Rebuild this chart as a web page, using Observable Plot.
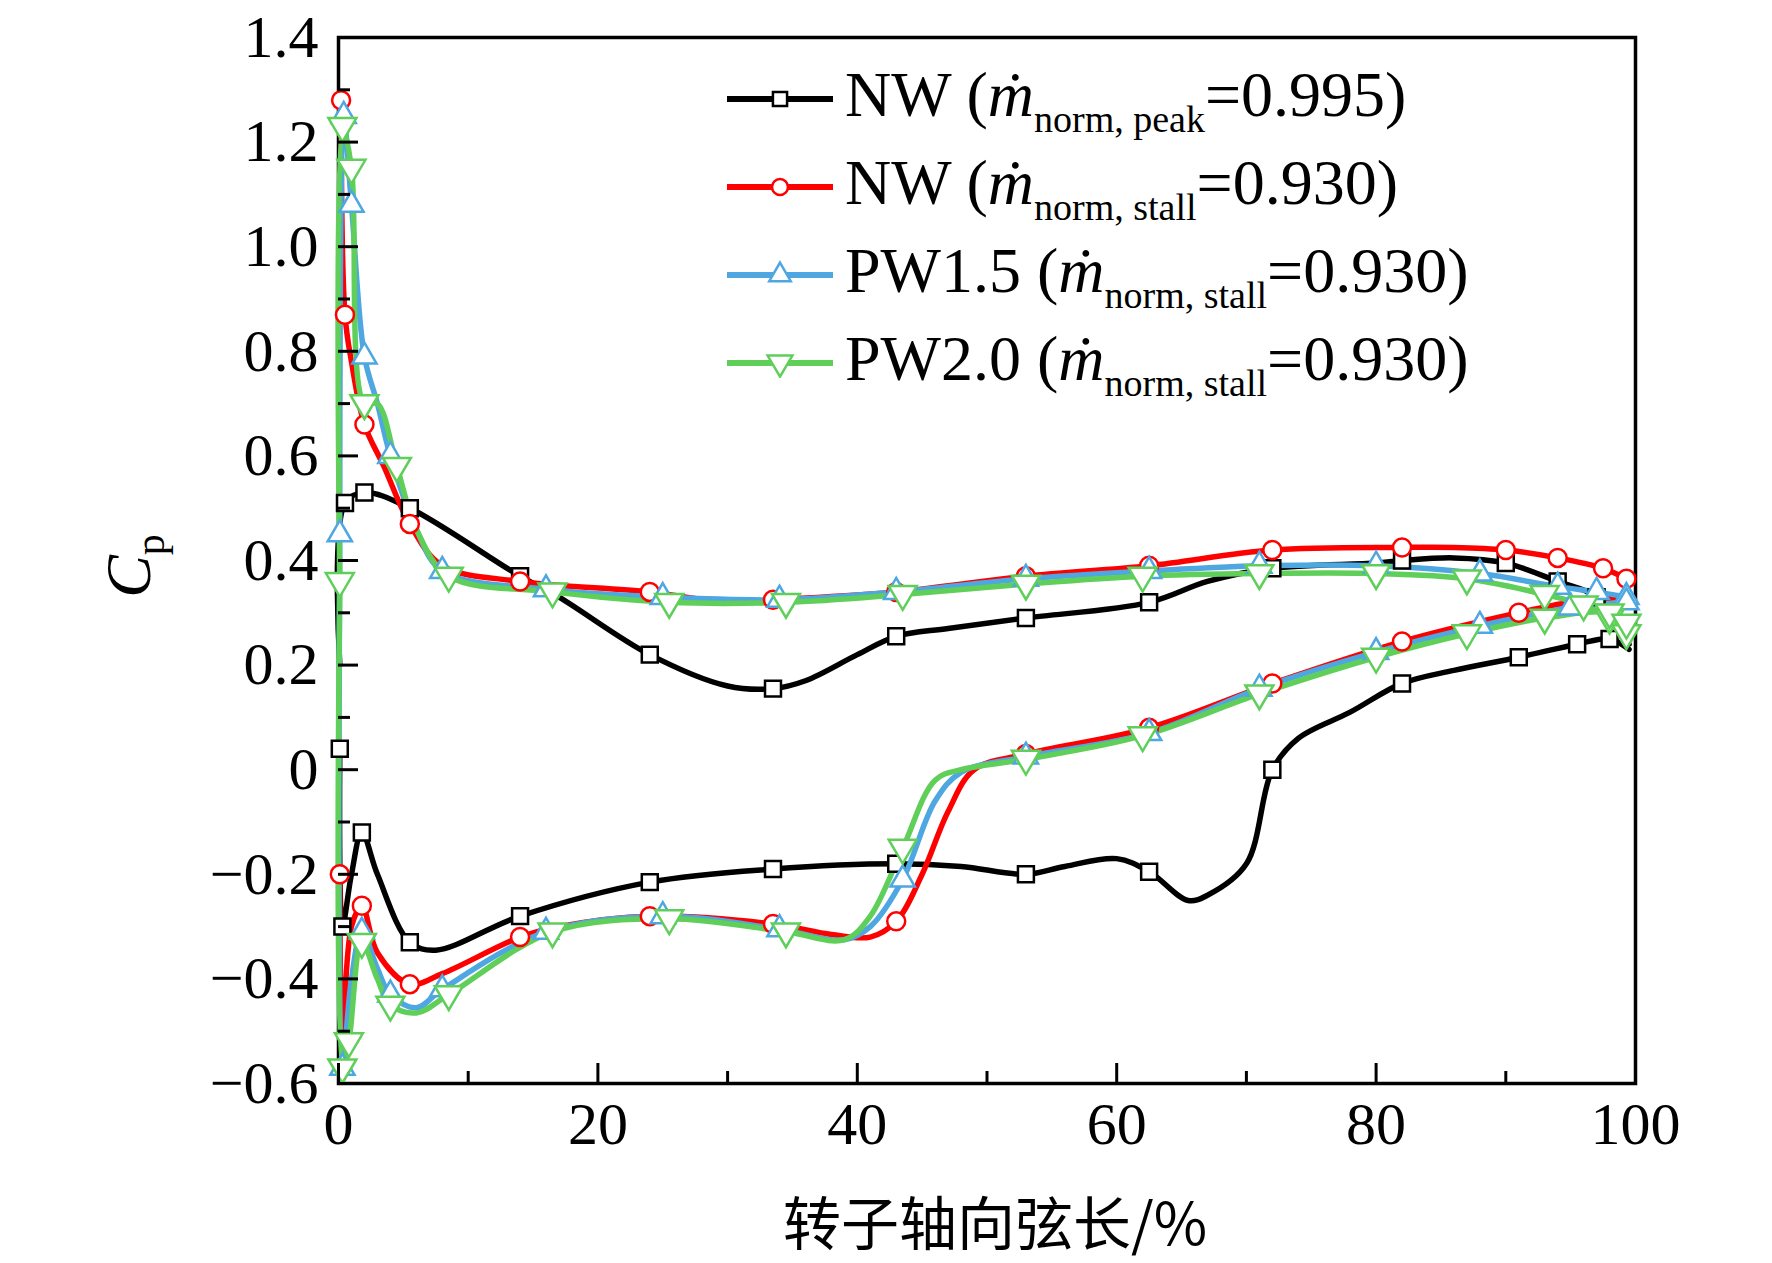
<!DOCTYPE html>
<html><head><meta charset="utf-8">
<script src="https://cdn.jsdelivr.net/npm/d3@7"></script>
<script src="https://cdn.jsdelivr.net/npm/@observablehq/plot@0.6"></script>
<style>
body{margin:0;background:#fff;}
#wrap{position:relative;width:1772px;height:1263px;}
#legend{position:absolute;left:725px;top:55px;font-family:"Liberation Serif",serif;font-size:64px;color:#000;}
.row{display:flex;align-items:center;height:88px;white-space:nowrap;}
.row svg{margin-right:10px;}
sub{font-size:38px;vertical-align:-16px;}
i{font-style:italic;}
</style></head><body>
<div id="wrap"><div id="chart"></div><div id="legend"></div></div>
<script>
const seriesNames = ["NW (peak)","NW (stall)","PW1.5 (stall)","PW2.0 (stall)"];
const colors = ["#000000","#ff0000","#4ea7e0","#5fcf5a"];
const triDown = {draw(ctx,size){const r=Math.sqrt(size/1.3);ctx.moveTo(-r,-r*0.6);ctx.lineTo(r,-r*0.6);ctx.lineTo(0,r*1.1);ctx.closePath();}};
const symbols = [d3.symbolSquare,d3.symbolCircle,d3.symbolTriangle,triDown];
const legendMain = ["NW (","NW (","PW1.5 (","PW2.0 ("];
const legendSub = ["norm, peak","norm, stall","norm, stall","norm, stall"];
const legendVal = ["=0.995)","=0.930)","=0.930)","=0.930)"];

const nwPeakUpX = [0.1,0.5,2,5.5,14,17,24,30,33.5,36,40,43,47,53,62.5,67,72,80,82,86,90,94,97,99.5];
const nwPeakUpY = [0.2,0.51,0.53,0.5,0.37,0.33,0.22,0.16,0.155,0.17,0.22,0.255,0.27,0.29,0.32,0.36,0.385,0.395,0.40,0.405,0.395,0.36,0.33,0.24];
const nwPeakLoX = [0.1,0.3,1,1.8,3,5.5,7.5,14,24,33.5,43,48,53,56,60,62.5,65.5,67,70,72,74,78,82,86,91,95.5,98,99.5];
const nwPeakLoY = [0.04,-0.3,-0.2,-0.12,-0.2,-0.33,-0.345,-0.28,-0.215,-0.19,-0.18,-0.185,-0.2,-0.185,-0.17,-0.195,-0.25,-0.24,-0.18,0.0,0.06,0.11,0.165,0.19,0.215,0.24,0.25,0.23];
const nwPeakUpM = [0,1,1,1,1,0,1,0,1,0,0,1,0,1,1,0,1,0,1,0,1,1,1,0];
const nwPeakLoM = [1,1,0,1,0,1,0,1,1,1,1,0,1,0,0,1,0,0,0,1,0,0,1,0,1,1,1,0];

const nwStallUpX = [0.2,0.5,1,2,3.5,5.5,8,14,24,30,33.5,43,53,62.5,72,82,86,90,94,97.5,99.3];
const nwStallUpY = [1.28,0.87,0.78,0.66,0.58,0.47,0.39,0.36,0.34,0.32,0.325,0.34,0.37,0.39,0.42,0.425,0.425,0.42,0.405,0.385,0.365];
const nwStallLoX = [0.1,0.3,1,1.8,3,5.5,8,14,17,24,33.5,38,41,43,45,47,49,53,62.5,72,82,91,95,99.3];
const nwStallLoY = [-0.2,-0.5,-0.3,-0.26,-0.35,-0.41,-0.39,-0.32,-0.3,-0.28,-0.295,-0.315,-0.32,-0.29,-0.2,-0.08,0.0,0.03,0.08,0.165,0.245,0.3,0.32,0.33];
const nwStallUpM = [1,1,0,1,0,1,0,1,1,0,1,1,1,1,1,1,0,1,1,1,1];
const nwStallLoM = [1,0,0,1,0,1,0,1,0,1,1,0,0,1,0,0,0,1,1,1,1,1,0,0];

const pw15UpX = [0.1,0.4,1,2,3,4,6,8,16,25,34,43,53,62.5,71,80,88,94,97,99.3];
const pw15UpY = [0.45,1.25,1.08,0.79,0.7,0.6,0.46,0.38,0.345,0.33,0.325,0.34,0.365,0.38,0.39,0.39,0.375,0.35,0.34,0.33];
const pw15LoX = [0.1,0.3,1,1.8,3,4,6,8,16,25,34,39,41,43.5,46,48,53,62.5,71,80,88,95,99.3];
const pw15LoY = [0.45,-0.57,-0.4,-0.31,-0.38,-0.43,-0.455,-0.42,-0.31,-0.28,-0.305,-0.325,-0.3,-0.21,-0.06,-0.005,0.025,0.07,0.155,0.225,0.275,0.31,0.32];
const pw15UpM = [1,1,1,1,0,1,0,1,1,1,1,1,1,1,1,1,1,1,1,1];
const pw15LoM = [0,1,0,1,0,1,0,1,1,1,1,0,0,1,0,0,1,1,1,1,1,1,1];

const pw20UpX = [0.1,0.3,1,2,3,4.5,6,8.5,16.5,25.5,34.5,43.5,53,62,71,80,87,93,96,98,99.3];
const pw20UpY = [0.36,1.23,1.15,0.7,0.7,0.58,0.46,0.37,0.34,0.32,0.32,0.335,0.355,0.37,0.375,0.375,0.365,0.335,0.315,0.29,0.26];
const pw20LoX = [0.1,0.3,0.8,1.8,3,4,6,8.5,16.5,25.5,34.5,39,41,43.5,46,48,53,62,71,80,87,93,98,99.3];
const pw20LoY = [0.36,-0.57,-0.52,-0.33,-0.4,-0.45,-0.465,-0.43,-0.31,-0.285,-0.31,-0.325,-0.28,-0.15,-0.02,0.0,0.02,0.065,0.145,0.215,0.26,0.29,0.3,0.28];
const pw20UpM = [1,1,1,1,0,1,0,1,1,1,1,1,1,1,1,1,1,1,1,1,1];
const pw20LoM = [0,1,1,1,0,1,0,1,1,1,1,0,0,1,0,0,1,1,1,1,1,1,1,1];

const raw = [[nwPeakUpX,nwPeakUpY,nwPeakLoX,nwPeakLoY,nwPeakUpM,nwPeakLoM],[nwStallUpX,nwStallUpY,nwStallLoX,nwStallLoY,nwStallUpM,nwStallLoM],
  [pw15UpX,pw15UpY,pw15LoX,pw15LoY,pw15UpM,pw15LoM],[pw20UpX,pw20UpY,pw20LoX,pw20LoY,pw20UpM,pw20LoM]];
const data = [];
raw.forEach((r,s)=>{
  r[0].forEach((x,i)=>data.push({s,key:s+"u",x,y:r[1][i],m:r[4][i]}));
  r[2].forEach((x,i)=>data.push({s,key:s+"l",x,y:r[3][i],m:r[5][i]}));
});

const marks = [Plot.frame({stroke:"#000",strokeWidth:3.5})];
[0,1,2,3].forEach(s=>{
  const d = data.filter(p=>p.s===s);
  marks.push(Plot.line(d,{x:"x",y:"y",z:"key",stroke:colors[s],strokeWidth:5.5,curve:"catmull-rom"}));
});
[0,1,2,3].forEach(s=>{
  const d = data.filter(p=>p.s===s && p.m);
  marks.push(Plot.dot(d,{x:"x",y:"y",symbol:symbols[s],r:9,stroke:colors[s],strokeWidth:2.5,fill:"white"}));
});
marks.push(
  Plot.axisY(d3.range(-0.6,1.41,0.2).map(v=>+v.toFixed(1)),{anchor:"left",tickSize:-20,tickPadding:40,strokeWidth:3,
    fontSize:60,fontFamily:"Liberation Serif",tickFormat:v=>v===0?"0":(v<0?"\u2212":"")+Math.abs(v).toFixed(1),label:null}),
  Plot.axisY(d3.range(-0.5,1.4,0.2).map(v=>+v.toFixed(1)),{anchor:"left",tickSize:-12,strokeWidth:3,text:null,label:null}),
  Plot.axisX([0,20,40,60,80,100],{anchor:"bottom",tickSize:-20,tickPadding:38,strokeWidth:3,fontSize:60,fontFamily:"Liberation Serif",label:null}),
  Plot.axisX([10,30,50,70,90],{anchor:"bottom",tickSize:-12,strokeWidth:3,text:null,label:null})
);

const chart = Plot.plot({
  width:1772,height:1263,marginLeft:338,marginRight:137,marginTop:37,marginBottom:180,
  x:{domain:[0,100]},y:{domain:[-0.6,1.4]},
  style:{background:"white",overflow:"visible"},
  marks
});
document.getElementById("chart").appendChild(chart);
const svg = d3.select(chart);
svg.append("text").attr("x",995).attr("y",1245).attr("text-anchor","middle")
  .style("font-family","'Noto Sans CJK SC'").style("font-size","58px").text("转子轴向弦长/%");
const yl = svg.append("text").attr("transform","translate(150,566) rotate(-90)").attr("text-anchor","middle")
  .style("font-family","'Liberation Serif'").style("font-size","64px");
yl.append("tspan").style("font-style","italic").text("C");
yl.append("tspan").attr("dy",14).style("font-size","42px").text("p");

const leg = document.getElementById("legend");
[0,1,2,3].forEach(s=>{
  const row = document.createElement("div"); row.className="row";
  const sym = d3.create("svg").attr("width",110).attr("height",30);
  sym.append("line").attr("x1",2).attr("x2",108).attr("y1",15).attr("y2",15).attr("stroke",colors[s]).attr("stroke-width",6);
  sym.append("path").attr("transform","translate(55,15)").attr("d",d3.symbol(symbols[s],200)())
    .attr("fill","white").attr("stroke",colors[s]).attr("stroke-width",2.5);
  row.appendChild(sym.node());
  const t = document.createElement("span");
  t.innerHTML = legendMain[s]+"<i>ṁ</i><sub>"+legendSub[s]+"</sub>"+legendVal[s];
  row.appendChild(t);
  leg.appendChild(row);
});
</script></body></html>
